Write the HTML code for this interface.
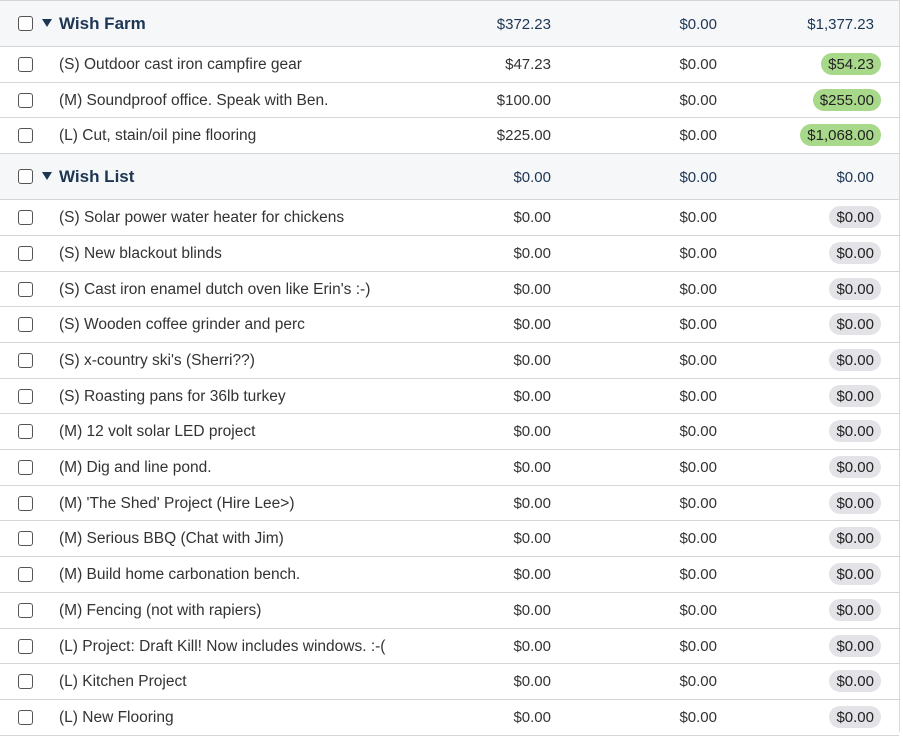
<!DOCTYPE html><html><head><style>
body{margin:0;width:903px;height:732px;overflow:hidden;background:#fff;font-family:"Liberation Sans",sans-serif;}
#t{position:absolute;left:0;top:0;width:899px;border-right:1px solid #d8d8d8;height:732px;}
.r{position:absolute;left:0;width:899px;border-bottom:1px solid #d6d6d6;box-sizing:border-box;}
.g{background:#f6f7f9;color:#1d3654;border-top:1px solid #d6d6d6;}
.cb{position:absolute;left:18px;width:13px;height:13px;border:1px solid #555;border-radius:3px;background:#fff;}
.tri{position:absolute;left:42px;width:0;height:0;border-left:5px solid transparent;border-right:5px solid transparent;border-top:8px solid #1d3654;}
.n{position:absolute;left:59px;font-size:15.5px;color:#333;white-space:nowrap;}
.g .n{font-size:17px;font-weight:bold;color:#1d3654;}
.a,.b,.c{position:absolute;font-size:15px;color:#333;text-align:right;white-space:nowrap;}
.g .a,.g .b,.g .c{color:#1d3654;}
.a{right:348px}.b{right:182px}.c{right:25px}
.p{position:absolute;right:18px;height:22px;line-height:24px;border-radius:11px;padding:0 7px;font-size:15px;color:#222;}
.gr{background:#a8d88a}.gy{background:#e3e3e7}
</style></head><body><div id="t">
</div>
<script>
var rows=[["g","Wish Farm","$372.23","$0.00","$1,377.23"],
["i","(S) Outdoor cast iron campfire gear","$47.23","$0.00","$54.23","gr"],
["i","(M) Soundproof office. Speak with Ben.","$100.00","$0.00","$255.00","gr"],
["i","(L) Cut, stain/oil pine flooring","$225.00","$0.00","$1,068.00","gr"],
["g","Wish List","$0.00","$0.00","$0.00"],
["i","(S) Solar power water heater for chickens"],["i","(S) New blackout blinds"],["i","(S) Cast iron enamel dutch oven like Erin's :-)"],["i","(S) Wooden coffee grinder and perc"],["i","(S) x-country ski's (Sherri??)"],["i","(S) Roasting pans for 36lb turkey"],["i","(M) 12 volt solar LED project"],["i","(M) Dig and line pond."],["i","(M) 'The Shed' Project (Hire Lee>)"],["i","(M) Serious BBQ (Chat with Jim)"],["i","(M) Build home carbonation bench."],["i","(M) Fencing (not with rapiers)"],["i","(L) Project: Draft Kill! Now includes windows. :-("],["i","(L) Kitchen Project"],["i","(L) New Flooring"]];
var h='',y=0;
rows.forEach(function(r){var g=r[0]=="g",H=g?46:35.7;var m=H/2;
var a=r[2]||"$0.00",b=r[3]||"$0.00",c=r[4]||"$0.00",cl=r[5]||"gy";
var y0=Math.round(y),y1=Math.round(y+H)+1;
if(g){m-=1;}
h+='<div class="r'+(g?' g':'')+'" style="top:'+y0+'px;height:'+(y1-y0)+'px">';
h+='<div class="cb" style="top:'+(m-7)+'px"></div>';
if(g)h+='<div class="tri" style="top:'+(m-4)+'px"></div>';
var fy=m-7.5;
h+='<div class="n" style="top:'+(g?m-9.5:fy-0.5)+'px">'+r[1]+'</div>';
h+='<div class="a" style="top:'+fy+'px">'+a+'</div><div class="b" style="top:'+fy+'px">'+b+'</div>';
if(g)h+='<div class="c" style="top:'+fy+'px">'+c+'</div>';else h+='<div class="p '+cl+'" style="top:'+(m-10.5)+'px">'+c+'</div>';
h+='</div>';y+=H;});
document.getElementById('t').innerHTML=h;
</script></body></html>
